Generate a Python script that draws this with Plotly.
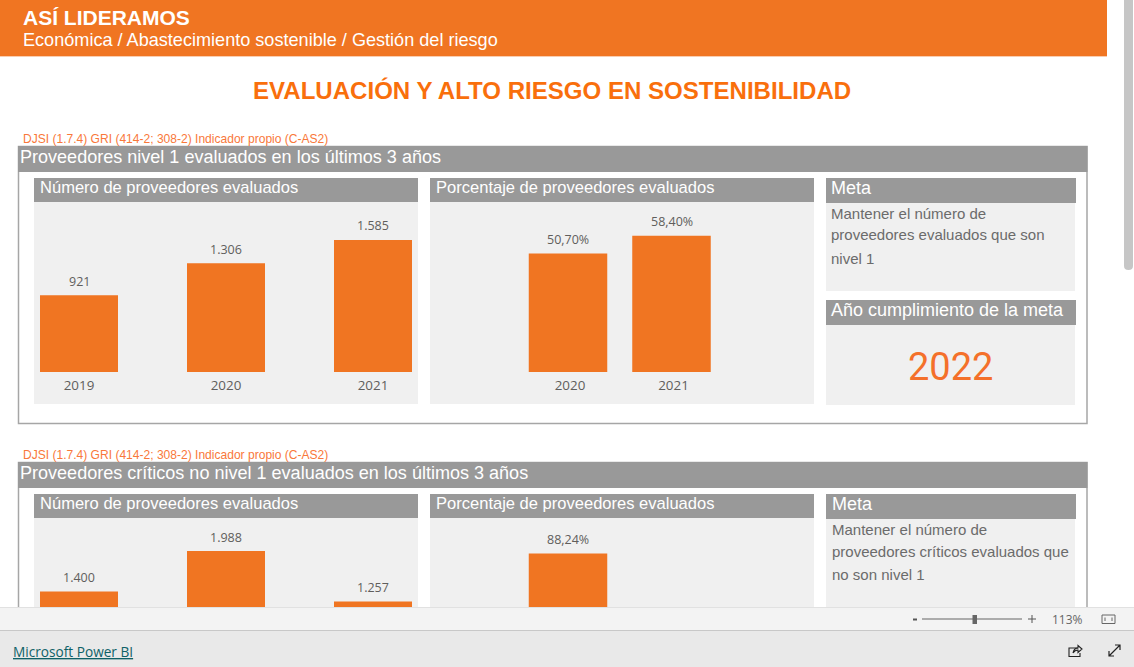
import plotly.graph_objects as go

# ---------- data ----------
years_3 = ["2019", "2020", "2021"]
years_2 = ["2020", "2021"]
n1_count = [921, 1306, 1585]
n1_pct = [50.70, 58.40]
crit_count = [1400, 1988, 1257]
crit_pct = [88.24, None]

W, H = 1134, 667
ORANGE = "#F07522"
GRAY = "#999999"
PANEL = "#F0F0F0"
ARIAL = "Liberation Sans, Arial, sans-serif"
SEGOE = "Open Sans, sans-serif"


def X(p):
    return p / W


def Y(p):
    return 1 - p / H


shapes, annos = [], []


def rect(x0, y0, x1, y1, fill, layer="below", line=None, lw=0):
    shapes.append(dict(type="rect", xref="paper", yref="paper", x0=X(x0), x1=X(x1), y0=Y(y1), y1=Y(y0),
                       fillcolor=fill, layer=layer, line=dict(color=line or fill, width=lw)))


def path(d, color, width=1.2, fill=None, layer="above"):
    s = ""
    for cmd in d:
        if isinstance(cmd, str):
            s += cmd + " "
        else:
            s += f"{X(cmd[0])},{Y(cmd[1])} "
    shapes.append(dict(type="path", xref="paper", yref="paper", path=s, layer=layer,
                       line=dict(color=color, width=width), fillcolor=fill or "rgba(0,0,0,0)"))


def text(x, y, t, size, color, font=ARIAL, anchor="left", bold=False, weight=None):
    f = dict(family=font, size=size, color=color)
    if weight:
        f["weight"] = weight
    annos.append(dict(xref="paper", yref="paper", x=X(x), y=Y(y), text=f"<b>{t}</b>" if bold else t, showarrow=False,
                      xanchor=anchor, yanchor="middle", font=f, borderpad=0, borderwidth=0))


# ---------- page chrome ----------
rect(0, 0, 1107, 56, ORANGE)
rect(0, 56, 1107, 57, "#F9CDB0")
text(23, 17.5, "ASÍ LIDERAMOS", 21, "white", bold=True)
text(23, 40, "Económica / Abastecimiento sostenible / Gestión del riesgo", 18.1, "white")
text(552, 91, "EVALUACIÓN Y ALTO RIESGO EN SOSTENIBILIDAD", 24.05, "#F96F0C", anchor="center", bold=True)
shapes.append(dict(type="path", xref="paper", yref="paper", layer="below", fillcolor="#C6C6C6", line=dict(width=0),
                   path=f"M {X(1124)},{Y(0)} L {X(1133)},{Y(0)} L {X(1133)},{Y(266)} Q {X(1133)},{Y(270)} {X(1128.5)},{Y(270)} "
                        f"Q {X(1124)},{Y(270)} {X(1124)},{Y(266)} Z"))


def section(dy, heading, meta_lines, meta_x, show_goal):
    text(23, 139 + dy, "DJSI (1.7.4) GRI (414-2; 308-2) Indicador propio (C-AS2)", 12.05, "#F9783A")
    rect(18.5, 146.5 + dy, 1087, 423.5 + dy, "white", line="#A6A6A6", lw=1.5)
    rect(18, 146 + dy, 1087.5, 172 + dy, GRAY)
    text(20, 157 + dy, heading, 18.05, "white")
    for x0, x1, label in [(34, 418, "Número de proveedores evaluados"), (430, 814, "Porcentaje de proveedores evaluados")]:
        rect(x0, 202 + dy, x1, 404 + dy, PANEL)
        rect(x0, 178 + dy, x1, 202 + dy, GRAY)
        text(x0 + 6, 187 + dy, label, 16.55, "white")
    rect(826, 203 + dy, 1075, 291 + dy, PANEL)
    rect(826, 178 + dy, 1076, 203 + dy, GRAY)
    text(meta_x, 188 + dy, "Meta", 18, "white")
    for i, line in enumerate(meta_lines):
        text(meta_x, [213, 235, 258][i] + dy, line, 15, "#6B6B6B")
    if show_goal:
        rect(826, 325 + dy, 1075, 405 + dy, PANEL)
        rect(826, 300 + dy, 1076, 325 + dy, GRAY)
        text(831, 310 + dy, "Año cumplimiento de la meta", 18, "white")
        text(950, 367 + dy, "2022", 38, "#F4702A", font="Roboto, sans-serif", anchor="center")


section(0, "Proveedores nivel 1 evaluados en los últimos 3 años",
        ["Mantener el número de", "proveedores evaluados que son", "nivel 1"], 831, True)
section(316, "Proveedores críticos no nivel 1 evaluados en los últimos 3 años",
        ["Mantener el número de", "proveedores críticos evaluados que", "no son nivel 1"], 832, False)

# ---------- footer chrome ----------
rect(0, 607, W, 630, "#F3F3F3", layer="above")
rect(0, 607, W, 608, "#E1E1E1", layer="above")
rect(0, 630, W, 631, "#C8C8C8", layer="above")
rect(0, 631, W, H, "#E9E9E9", layer="above")
rect(913, 618.5, 917, 620.5, "#555555", layer="above")
rect(922, 618.5, 1022, 619.5, "#666666", layer="above")
rect(972.5, 615, 977, 624, "#666666", layer="above")
rect(1028, 618.5, 1036, 619.5, "#555555", layer="above")
rect(1031.5, 615, 1032.5, 623, "#555555", layer="above")
shapes.append(dict(type="rect", xref="paper", yref="paper", x0=X(1102), x1=X(1115), y0=Y(623.5), y1=Y(615),
                   layer="above", line=dict(color="#666666", width=1), fillcolor="rgba(0,0,0,0)"))
path(["M", (1105, 617.5), "L", (1105, 621), "M", (1112, 617.5), "L", (1112, 621)], "#666666", 1)
text(1067, 619, "113%", 12, "#666666", font=SEGOE, anchor="center")
text(13, 651, "<u>Microsoft Power BI</u>", 13.65, "#0E6167", font=SEGOE, weight=500)
path(["M", (1078, 648), "L", (1069, 648), "L", (1069, 656.5), "L", (1080, 656.5), "L", (1080, 653)], "#222222", 1.1)
path(["M", (1073, 653), "Q", (1074, 648), (1078, 648), "L", (1078, 645.5), "L", (1082, 649), "L", (1078, 652.5), "L", (1078, 650),
      "Q", (1075, 650), (1073, 653)], "#222222", 1.1)
path(["M", (1109, 656), "L", (1120, 645), "M", (1115, 645), "L", (1120, 645), "L", (1120, 650),
      "M", (1109, 651), "L", (1109, 656), "L", (1114, 656)], "#222222", 1.2)

# ---------- bars ----------
fig = go.Figure()
LABEL_COLOR = "#605E5C"


def fmt_count(v):
    return f"{v:,.0f}".replace(",", ".")


def fmt_pct(v):
    return f"{v:.2f}%".replace(".", ",")


def bar_chart(idx, cats, values, fmt, x0, x1, y_top, y_bottom, baseline, px_per_unit, first_center, step, bar_w, ticks, tick_shift):
    sfx = "" if idx == 1 else str(idx)
    fig.add_trace(go.Bar(x=cats, y=values, xaxis=f"x{sfx}", yaxis=f"y{sfx}", marker=dict(color=ORANGE, line=dict(width=0)),
                         width=bar_w / step, hoverinfo="skip"))
    for i, v in enumerate(values):
        if v is not None:
            annos.append(dict(xref=f"x{sfx}", yref=f"y{sfx}", x=i, y=v, text=fmt(v), showarrow=False, yanchor="middle",
                              xanchor="center", yshift=14, font=dict(family=SEGOE, size=12.5, color=LABEL_COLOR)))
    fig.update_layout({
        f"xaxis{sfx}": dict(domain=[X(x0), X(x1)], anchor=f"y{sfx}", type="category", categoryorder="array", categoryarray=cats,
                            range=[(x0 - first_center) / step, (x1 - first_center) / step], showgrid=False, zeroline=False,
                            showline=False, ticks="outside" if ticks else "", ticklen=1, tickcolor="rgba(0,0,0,0)",
                            showticklabels=ticks, ticklabelshift=tick_shift,
                            tickfont=dict(family=SEGOE, size=13.4, color=LABEL_COLOR), fixedrange=True),
        f"yaxis{sfx}": dict(domain=[Y(y_bottom), Y(y_top)], anchor=f"x{sfx}",
                            range=[(baseline - y_bottom) / px_per_unit, (baseline - y_top) / px_per_unit],
                            visible=False, fixedrange=True),
    })


bar_chart(1, years_3, n1_count, fmt_count, 34, 418, 202, 372, 372, 0.0833, 79, 147, 78, True, 0)
bar_chart(2, years_2, n1_pct, fmt_pct, 430, 814, 202, 372, 372, 2.335, 568, 103.5, 78.5, True, 2)
bar_chart(3, years_3, crit_count, fmt_count, 34, 418, 518, 667, 688, 0.0689, 79, 147, 78, False, 0)
bar_chart(4, years_2, crit_pct, fmt_pct, 430, 814, 518, 667, 688, 1.524, 568, 103.5, 78.5, False, 0)

fig.update_layout(width=W, height=H, margin=dict(l=0, r=0, t=0, b=0), autosize=False, paper_bgcolor="white",
                  plot_bgcolor="rgba(0,0,0,0)", showlegend=False, shapes=shapes, annotations=annos)

fig.write_html("out.html", config=dict(displayModeBar=False, responsive=False),
               post_script="document.body.style.margin='0';document.body.style.overflow='hidden';")
